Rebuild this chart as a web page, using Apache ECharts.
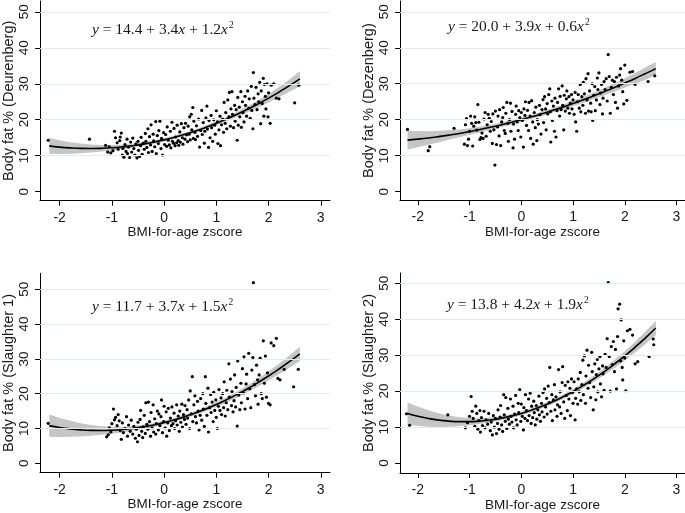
<!DOCTYPE html>
<html>
<head>
<meta charset="utf-8">
<script src="https://cdn.jsdelivr.net/npm/echarts@6/dist/echarts.min.js"></script>
<style>
html,body{margin:0;padding:0;background:#fff;}
#c{width:685px;height:513px;}
</style>
</head>
<body>
<div id="c"></div>
<script>
// ---------- data ----------
const xTicks = [-2, -1, 0, 1, 2, 3];
const yTicks = [0, 10, 20, 30, 40, 50];
const gridYs = [10, 20, 30, 40, 50];
const xTitle = 'BMI-for-age zscore';
const yTitles = ['Body fat % (Deurenberg)', 'Body fat % (Dezenberg)', 'Body fat % (Slaughter 1)', 'Body fat % (Slaughter 2)'];
const equations = [
  ['14.4', '3.4', '1.2'],
  ['20.0', '3.9', '0.6'],
  ['11.7', '3.7', '1.5'],
  ['13.8', '4.2', '1.9']
];

const fitX = [-2.2,-2.0,-1.8,-1.6,-1.4,-1.2,-1.0,-0.8,-0.6,-0.4,-0.2,0,0.2,0.4,0.6,0.8,1.0,1.2,1.4,1.6,1.8,2.0,2.2,2.4,2.6];

const fit1 = [12.73,12.40,12.17,12.03,11.99,12.05,12.20,12.45,12.79,13.23,13.77,14.40,15.13,15.95,16.87,17.89,19.00,20.21,21.51,22.91,24.41,26.00,27.69,29.47,31.35];
const fit2 = [14.32,14.60,14.92,15.30,15.72,16.18,16.70,17.26,17.88,18.54,19.24,20.00,20.80,21.66,22.56,23.50,24.50,25.54,26.64,27.78,28.96,30.20,31.48,32.82,34.20];
const fit3 = [10.82,10.30,9.90,9.62,9.46,9.42,9.50,9.70,10.02,10.46,11.02,11.70,12.50,13.42,14.46,15.62,16.90,18.30,19.82,21.46,23.22,25.10,27.10,29.22,31.46];
const fit4 = [13.76,13.00,12.40,11.94,11.64,11.50,11.50,11.66,11.96,12.42,13.04,13.80,14.72,15.78,17.00,18.38,19.90,21.58,23.40,25.38,27.52,29.80,32.24,34.82,37.56];

const ci1 = [2.2,1.9,1.6,1.35,1.1,0.9,0.75,0.62,0.55,0.5,0.48,0.47,0.47,0.48,0.5,0.52,0.56,0.62,0.7,0.82,0.98,1.18,1.42,1.72,2.1];
const ci2 = [2.6,2.25,1.9,1.6,1.32,1.08,0.9,0.78,0.7,0.65,0.62,0.6,0.6,0.61,0.63,0.67,0.72,0.8,0.9,1.02,1.16,1.32,1.5,1.68,1.85];
const ci3 = [3.2,2.75,2.3,1.9,1.55,1.25,1.0,0.82,0.7,0.62,0.58,0.56,0.56,0.57,0.6,0.64,0.7,0.78,0.88,1.0,1.15,1.32,1.52,1.76,2.05];
const ci4 = [3.1,2.7,2.3,1.9,1.55,1.25,1.0,0.82,0.7,0.62,0.58,0.56,0.56,0.57,0.6,0.64,0.7,0.78,0.88,1.0,1.14,1.3,1.5,1.74,2.0];

const pts1 = [
[-2.22,14.3],[-1.43,14.6],[-1.12,12.9],
[-1.08,11.0],[-1.05,12.5],[-1.02,10.8],[-0.98,11.4],[-0.95,16.8],[-0.93,15.0],[-0.9,13.6],[-0.88,11.8],[-0.85,14.2],[-0.84,15.2],[-0.82,16.3],[-0.8,10.2],[-0.79,12.0],[-0.77,9.6],[-0.75,13.1],[-0.73,11.2],[-0.71,14.6],[-0.7,10.6],
[-0.68,12.4],[-0.66,9.5],[-0.64,13.8],[-0.62,11.0],[-0.6,14.9],[-0.58,12.0],[-0.56,10.2],[-0.54,13.3],[-0.52,9.4],[-0.5,14.0],[-0.49,11.5],[-0.47,9.8],[-0.45,12.8],[-0.44,15.1],[-0.42,10.4],[-0.4,13.5],
[-0.38,11.8],[-0.36,16.2],[-0.35,14.0],[-0.33,12.3],[-0.31,17.5],[-0.3,10.9],[-0.28,15.3],[-0.26,13.0],[-0.25,18.6],[-0.23,11.2],[-0.21,16.0],[-0.2,14.1],[-0.18,12.5],[-0.16,19.5],[-0.15,10.6],[-0.13,15.6],[-0.11,13.4],[-0.1,17.0],
[-0.08,19.6],[-0.06,12.0],[-0.05,14.8],[-0.03,10.2],[-0.01,16.4],[0.01,13.1],[0.03,15.9],[0.05,12.6],[0.06,18.0],[0.08,14.3],[0.1,13.0],[0.12,16.8],[0.13,12.2],[0.15,19.3],[0.16,14.0],[0.18,13.5],[0.19,17.6],
[0.21,12.8],[0.22,15.2],[0.24,13.6],[0.25,18.5],[0.27,14.2],[0.28,12.9],[0.3,16.6],[0.31,13.8],[0.33,18.9],[0.35,15.0],[0.36,13.2],[0.38,17.8],[0.4,14.6],[0.41,19.0],[0.43,15.8],[0.45,13.9],[0.46,18.2],[0.48,16.0],[0.49,20.8],
[0.5,14.4],[0.52,21.5],[0.53,17.2],[0.55,23.4],[0.56,14.8],[0.57,19.6],[0.59,16.5],[0.6,14.5],[0.62,18.3],[0.64,15.4],[0.66,20.2],[0.68,12.4],[0.7,17.0],[0.72,22.6],[0.73,15.9],[0.75,19.2],[0.77,13.5],[0.78,16.8],
[0.8,20.5],[0.82,23.8],[0.83,17.4],[0.85,12.3],[0.86,19.8],[0.88,15.0],[0.9,21.2],[0.91,17.8],[0.93,14.0],[0.95,20.0],[0.97,18.5],[0.98,16.0],[1.0,22.5],[1.02,19.4],[1.03,13.4],[1.05,17.2],[1.07,21.0],[1.08,12.8],[1.1,18.6],
[1.12,20.2],[1.14,16.5],[1.15,24.8],[1.17,19.0],[1.18,22.0],[1.2,17.5],[1.22,25.5],[1.24,20.8],[1.25,27.6],[1.27,18.2],[1.28,23.0],[1.3,27.8],[1.31,21.5],[1.33,17.8],[1.35,24.0],[1.36,19.6],[1.38,22.8],[1.4,14.3],
[1.41,26.2],[1.42,18.5],[1.44,23.5],[1.45,20.8],[1.47,27.8],[1.48,17.9],[1.5,25.0],[1.51,22.0],[1.53,19.4],[1.55,26.5],[1.56,24.0],[1.58,21.0],[1.6,28.0],[1.62,23.2],[1.63,25.8],[1.65,20.4],[1.67,29.3],[1.68,22.6],[1.7,17.5],
[1.71,33.1],[1.72,26.0],[1.74,24.2],[1.76,29.0],[1.78,22.8],[1.8,27.2],[1.81,25.0],[1.83,30.4],[1.85,18.9],[1.86,28.0],[1.88,24.5],[1.9,31.5],[1.91,21.0],[1.92,29.8],[1.94,26.5],[1.95,23.0],[1.97,30.0],[1.99,20.8],[2.0,27.5],
[2.03,19.0],[2.05,29.6],[2.1,30.0],[2.15,26.0],[2.2,25.8],[2.5,24.7],[2.58,29.6]
];

const pts2 = [
[-2.2,17.3],[-1.8,11.4],[-1.77,12.5],[-1.3,17.6],
[-1.1,13.2],[-1.08,18.6],[-1.06,20.3],[-1.04,12.8],[-1.02,14.6],[-1.0,16.8],[-0.98,21.0],[-0.96,19.0],[-0.94,12.7],[-0.92,18.2],[-0.9,20.8],[-0.88,19.2],[-0.86,17.1],[-0.84,24.2],[-0.82,19.3],[-0.8,14.5],
[-0.78,15.0],[-0.76,16.3],[-0.74,14.8],[-0.72,20.2],[-0.7,22.0],[-0.68,15.4],[-0.66,18.6],[-0.64,21.5],[-0.62,20.4],[-0.6,16.8],[-0.58,19.5],[-0.56,13.4],[-0.55,21.6],[-0.53,17.2],[-0.51,7.4],[-0.5,22.4],
[-0.48,13.1],[-0.46,18.0],[-0.45,21.0],[-0.43,15.5],[-0.42,22.8],[-0.4,12.8],[-0.38,19.4],[-0.36,20.6],[-0.35,23.4],[-0.33,17.0],[-0.31,16.2],[-0.3,21.8],[-0.28,24.8],[-0.26,19.0],[-0.25,14.0],[-0.23,20.0],[-0.21,24.6],[-0.2,16.8],
[-0.18,22.3],[-0.16,12.2],[-0.15,18.8],[-0.13,14.6],[-0.11,21.5],[-0.1,23.8],[-0.08,19.4],[-0.06,17.0],[-0.05,22.5],[-0.03,20.6],[-0.01,15.2],[0.0,22.0],[0.02,19.8],[0.04,12.4],[0.05,23.0],[0.07,21.2],[0.08,25.0],[0.1,18.4],
[0.12,22.6],[0.14,17.0],[0.15,24.8],[0.17,21.0],[0.18,14.8],[0.2,25.3],[0.22,19.4],[0.23,13.2],[0.25,22.0],[0.27,17.8],[0.28,23.5],[0.3,14.2],[0.31,20.0],[0.33,18.8],[0.35,24.0],[0.36,21.4],[0.38,16.0],[0.4,22.8],
[0.42,25.6],[0.43,19.2],[0.45,26.4],[0.47,23.0],[0.48,17.2],[0.5,24.5],[0.51,21.6],[0.53,27.0],[0.55,28.6],[0.56,22.2],[0.57,13.8],[0.59,25.2],[0.6,19.8],[0.62,23.8],[0.64,16.8],[0.65,26.0],[0.67,15.2],[0.69,22.5],[0.7,24.8],
[0.72,28.6],[0.74,21.0],[0.75,26.5],[0.77,22.8],[0.79,29.4],[0.8,24.0],[0.82,17.2],[0.83,26.8],[0.85,22.4],[0.87,25.8],[0.88,28.0],[0.9,23.2],[0.92,26.4],[0.93,21.8],[0.95,24.6],[0.97,27.0],[0.98,23.0],[1.0,25.5],
[1.02,21.5],[1.04,27.6],[1.05,19.4],[1.07,16.8],[1.08,25.0],[1.1,27.0],[1.12,23.2],[1.14,29.8],[1.15,22.2],[1.17,26.4],[1.19,24.0],[1.2,30.4],[1.22,27.2],[1.24,21.8],[1.25,31.4],[1.27,25.5],[1.29,32.8],[1.3,22.4],
[1.32,28.0],[1.34,24.6],[1.35,22.2],[1.37,30.0],[1.38,19.8],[1.4,26.8],[1.42,29.2],[1.43,22.5],[1.45,25.5],[1.47,31.6],[1.48,28.4],[1.5,33.0],[1.52,24.2],[1.53,27.4],[1.55,29.8],[1.57,21.6],[1.58,26.0],[1.6,30.6],
[1.62,28.4],[1.64,31.4],[1.66,25.2],[1.68,38.1],[1.7,32.0],[1.72,21.8],[1.74,29.0],[1.76,31.0],[1.78,27.0],[1.8,30.6],[1.82,24.8],[1.84,31.8],[1.86,23.2],[1.88,29.4],[1.9,32.4],[1.92,34.2],[1.94,31.0],[1.96,27.8],[1.98,24.4],[2.0,35.2],
[2.04,25.4],[2.1,33.2],[2.15,33.4],[2.2,29.8],[2.45,30.6],[2.58,32.2]
];

const pts3 = [
[-2.22,11.5],
[-1.1,7.6],[-1.07,8.2],[-1.05,10.2],[-1.02,9.0],[-1.0,11.4],[-0.97,15.6],[-0.95,12.5],[-0.93,13.2],[-0.9,10.8],[-0.88,14.0],[-0.86,12.2],[-0.84,9.4],[-0.82,6.9],[-0.8,11.6],
[-0.78,8.8],[-0.75,10.0],[-0.72,13.4],[-0.7,7.8],[-0.68,11.0],[-0.65,9.2],[-0.63,12.4],[-0.6,8.4],[-0.58,10.6],[-0.55,7.2],[-0.53,9.8],[-0.51,6.2],[-0.5,11.8],
[-0.48,8.0],[-0.46,12.6],[-0.45,15.2],[-0.43,9.2],[-0.41,7.4],[-0.4,10.5],[-0.38,13.8],[-0.36,8.6],[-0.35,17.4],[-0.33,11.2],[-0.31,9.8],[-0.3,17.6],[-0.28,12.0],[-0.26,7.8],[-0.25,14.6],[-0.23,10.2],[-0.21,16.8],[-0.2,9.0],
[-0.18,12.8],[-0.16,8.4],[-0.15,11.4],[-0.13,15.0],[-0.11,9.6],[-0.1,14.2],[-0.08,10.8],[-0.06,13.4],[-0.05,18.2],[-0.03,8.8],[-0.01,12.0],[0.0,16.4],[0.02,10.2],[0.04,14.8],[0.05,7.8],[0.07,11.6],[0.08,15.8],[0.1,9.4],
[0.12,13.0],[0.14,10.8],[0.15,16.2],[0.17,11.4],[0.19,14.4],[0.2,10.0],[0.22,12.2],[0.24,16.8],[0.25,11.0],[0.27,13.6],[0.29,9.2],[0.3,15.0],[0.32,11.8],[0.34,17.0],[0.35,10.4],[0.37,14.0],[0.39,12.6],[0.4,16.6],
[0.42,11.2],[0.44,15.4],[0.45,13.0],[0.47,18.2],[0.49,10.0],[0.5,20.8],[0.52,14.2],[0.54,24.9],[0.55,12.0],[0.57,16.8],[0.59,19.4],[0.6,13.4],[0.62,11.6],[0.64,17.8],[0.65,15.0],[0.67,9.6],[0.69,13.8],[0.7,18.6],
[0.72,12.4],[0.74,20.0],[0.75,15.6],[0.77,10.6],[0.79,24.9],[0.8,17.2],[0.82,13.8],[0.84,21.6],[0.85,9.0],[0.87,16.0],[0.89,19.8],[0.9,14.6],[0.92,17.6],[0.94,12.0],[0.95,20.4],[0.97,15.2],[0.99,18.2],[1.0,13.2],
[1.02,10.0],[1.04,16.4],[1.05,21.2],[1.07,15.2],[1.09,18.8],[1.1,14.0],[1.12,20.0],[1.14,16.0],[1.15,23.4],[1.17,13.6],[1.19,17.4],[1.2,21.0],[1.22,15.4],[1.24,28.6],[1.25,19.0],[1.27,24.2],[1.29,16.6],[1.3,20.6],
[1.32,14.8],[1.34,18.0],[1.35,25.4],[1.37,16.2],[1.38,21.8],[1.4,10.7],[1.41,29.4],[1.43,19.6],[1.45,15.4],[1.47,23.0],[1.48,17.4],[1.5,27.2],[1.52,20.2],[1.53,30.6],[1.55,15.6],[1.57,22.8],[1.58,25.6],[1.6,18.6],
[1.62,31.6],[1.64,21.4],[1.66,16.0],[1.68,26.8],[1.7,30.4],[1.71,51.9],[1.73,22.6],[1.75,19.4],[1.77,28.2],[1.79,24.0],[1.8,17.0],[1.82,25.4],[1.84,30.2],[1.86,20.0],[1.88,18.6],[1.9,35.2],[1.92,23.0],[1.94,30.8],[1.96,19.0],[1.98,26.0],[2.0,17.2],
[2.03,16.8],[2.05,34.6],[2.1,33.8],[2.15,35.9],[2.18,24.4],[2.22,24.0],[2.3,27.0],[2.48,22.0],[2.57,27.0]
];

const pts4 = [
[-2.22,13.7],[-2.16,10.5],[-1.42,13.4],
[-1.08,9.8],[-1.04,11.2],[-1.0,13.0],[-0.97,18.5],[-0.95,14.4],[-0.93,12.4],[-0.9,10.2],[-0.88,15.8],[-0.86,13.8],[-0.84,9.4],[-0.82,11.8],[-0.8,14.6],[-0.79,8.6],
[-0.77,12.6],[-0.75,10.4],[-0.72,14.4],[-0.7,9.8],[-0.68,12.0],[-0.65,10.8],[-0.63,13.8],[-0.6,9.0],[-0.58,11.4],[-0.56,7.8],[-0.54,13.2],[-0.52,10.0],[-0.5,12.4],
[-0.48,8.2],[-0.46,11.0],[-0.45,14.8],[-0.43,9.4],[-0.41,12.8],[-0.4,16.0],[-0.38,10.6],[-0.36,8.8],[-0.34,19.0],[-0.33,13.4],[-0.31,11.6],[-0.3,18.2],[-0.28,9.6],[-0.26,15.2],[-0.25,12.2],[-0.23,10.8],[-0.21,17.8],[-0.2,13.0],
[-0.18,11.4],[-0.16,15.8],[-0.15,9.8],[-0.13,13.6],[-0.11,18.8],[-0.1,12.0],[-0.08,10.6],[-0.06,16.6],[-0.05,14.0],[-0.03,20.4],[-0.01,11.6],[0.0,16.4],[0.02,13.0],[0.04,9.2],[0.05,15.4],[0.07,12.4],[0.08,19.0],[0.1,14.6],
[0.12,11.8],[0.14,17.8],[0.15,13.2],[0.17,19.4],[0.19,11.0],[0.2,15.8],[0.22,12.6],[0.24,17.2],[0.25,14.0],[0.27,10.6],[0.29,16.0],[0.3,12.2],[0.32,14.8],[0.34,18.6],[0.35,13.4],[0.37,11.6],[0.39,16.6],[0.4,14.2],
[0.42,19.6],[0.44,12.8],[0.45,20.6],[0.47,15.6],[0.49,18.0],[0.5,13.6],[0.52,21.4],[0.54,16.8],[0.55,26.6],[0.57,14.4],[0.59,19.0],[0.6,11.8],[0.62,17.6],[0.64,21.8],[0.65,14.8],[0.67,18.4],[0.69,13.0],[0.7,16.2],
[0.72,26.0],[0.74,15.6],[0.75,19.8],[0.77,13.8],[0.79,22.4],[0.8,26.8],[0.82,17.0],[0.84,12.4],[0.85,21.6],[0.87,18.8],[0.89,14.6],[0.9,22.6],[0.92,17.8],[0.94,20.8],[0.95,13.2],[0.97,23.4],[0.99,19.6],[1.0,16.6],
[1.02,22.6],[1.04,12.0],[1.05,18.0],[1.07,20.6],[1.09,16.4],[1.1,23.4],[1.12,19.8],[1.14,25.2],[1.15,17.4],[1.17,21.8],[1.19,28.6],[1.2,19.0],[1.22,29.8],[1.24,16.6],[1.25,24.2],[1.27,31.4],[1.29,20.8],[1.3,27.2],
[1.32,22.4],[1.34,18.2],[1.36,30.8],[1.37,25.4],[1.39,14.8],[1.4,21.2],[1.42,27.6],[1.44,17.6],[1.45,24.6],[1.47,28.8],[1.48,19.8],[1.5,26.2],[1.52,29.6],[1.53,22.0],[1.55,18.4],[1.57,27.0],[1.58,24.8],[1.6,20.2],
[1.62,30.2],[1.64,26.6],[1.66,34.6],[1.68,50.2],[1.7,29.6],[1.72,20.0],[1.74,32.4],[1.76,27.4],[1.78,33.8],[1.8,25.4],[1.82,31.6],[1.84,20.6],[1.86,35.2],[1.87,42.9],[1.9,44.2],[1.92,28.4],[1.93,39.8],[1.95,26.6],[1.96,23.1],[1.98,34.0],[2.0,29.2],
[2.02,20.1],[2.05,36.8],[2.1,37.2],[2.15,35.6],[2.2,27.6],[2.25,28.2],[2.47,29.6],[2.55,34.5],[2.56,32.9]
];

const fits = [fit1, fit2, fit3, fit4];
const cis = [ci1, ci2, ci3, ci4];
const pts = [pts1, pts2, pts3, pts4];

// ---------- layout ----------
const layout = [
  {left: 38.5, top: 1,     width: 291.5, height: 199.7, xmin: -2.377, xmax: 3.177, ymin: -2.5,  ymax: 53.0,  eqLeft: 92,  eqTop: 20.5},
  {left: 400,  top: 1,     width: 292,   height: 199.3, xmin: -2.345, xmax: 3.164, ymin: -2.4,  ymax: 53.0,  eqLeft: 448, eqTop: 17.5},
  {left: 38.3, top: 273.3, width: 291.7, height: 199.4, xmin: -2.377, xmax: 3.177, ymin: -2.7,  ymax: 54.6,  eqLeft: 92,  eqTop: 297},
  {left: 400,  top: 273,   width: 292,   height: 200.3, xmin: -2.345, xmax: 3.164, ymin: -2.78, ymax: 52.86, eqLeft: 447, eqTop: 295.5}
];

const sans = 'Liberation Sans, Arial, sans-serif';
const serif = 'Liberation Serif, Times New Roman, serif';
const textColor = '#1a1a1a';

const option = {
  animation: false,
  backgroundColor: '#ffffff',
  grid: [], xAxis: [], yAxis: [], series: [], title: []
};

layout.forEach((L, k) => {
  option.grid.push({left: L.left, top: L.top, width: L.width, height: L.height, containLabel: false});
  option.xAxis.push({
    type: 'value', gridIndex: k, min: L.xmin, max: L.xmax,
    name: xTitle, nameLocation: 'middle', nameGap: 25,
    nameTextStyle: {fontFamily: sans, fontSize: 13.5, color: textColor},
    axisLine: {show: true, onZero: false, lineStyle: {color: '#000', width: 1}},
    axisTick: {show: true, inside: false, length: 5, customValues: xTicks, lineStyle: {color: '#000', width: 1}},
    axisLabel: {show: true, customValues: xTicks, margin: 10, fontFamily: sans, fontSize: 14, color: textColor},
    splitLine: {show: false}
  });
  option.yAxis.push({
    type: 'value', gridIndex: k, min: L.ymin, max: L.ymax,
    name: yTitles[k], nameLocation: 'middle', nameGap: 24,
    nameTextStyle: {fontFamily: sans, fontSize: 14.5, color: textColor},
    axisLine: {show: true, onZero: false, lineStyle: {color: '#000', width: 1}},
    axisTick: {show: true, inside: false, length: 5, customValues: yTicks, lineStyle: {color: '#000', width: 1}},
    axisLabel: {show: true, customValues: yTicks, rotate: 90, margin: 9, fontFamily: sans, fontSize: 13.5, color: textColor},
    splitLine: {show: false}
  });

  const fit = fits[k], ci = cis[k];
  const lower = fit.map((v, i) => v - ci[i]);
  const upper = fit.map((v, i) => v + ci[i]);

  // gridlines (reference lines at the labelled values)
  option.series.push({
    type: 'line', xAxisIndex: k, yAxisIndex: k, data: [], silent: true, z: 1,
    markLine: {
      silent: true, symbol: ['none', 'none'], label: {show: false}, animation: false,
      lineStyle: {color: '#e3ecec', width: 1, type: 'solid'},
      emphasis: {disabled: true},
      data: gridYs.map(v => ({yAxis: v}))
    }
  });

  // confidence band
  option.series.push({
    type: 'custom', xAxisIndex: k, yAxisIndex: k, silent: true, z: 2,
    data: fitX.map((x, i) => [x, lower[i], upper[i]]),
    encode: {x: 0, y: [1, 2]},
    renderItem: function (params, api) {
      if (params.dataIndex !== 0) return null;
      const top = fitX.map((x, i) => api.coord([x, upper[i]]));
      const bot = fitX.map((x, i) => api.coord([x, lower[i]])).reverse();
      return {type: 'polygon', shape: {points: top.concat(bot)}, style: {fill: '#c5c5c5', stroke: null}};
    }
  });

  // scatter
  option.series.push({
    type: 'scatter', xAxisIndex: k, yAxisIndex: k, z: 3,
    data: pts[k], symbol: 'circle', symbolSize: 3.2,
    itemStyle: {color: '#000', opacity: 1}
  });

  // fitted curve
  option.series.push({
    type: 'line', xAxisIndex: k, yAxisIndex: k, z: 4,
    data: fitX.map((x, i) => [x, fit[i]]), showSymbol: false, symbol: 'none', smooth: true,
    lineStyle: {color: '#000', width: 1.6}
  });

  const e = equations[k];
  option.title.push({
    left: L.eqLeft, top: L.eqTop, padding: 0,
    text: '{i|y} = ' + e[0] + ' + ' + e[1] + '{i|x} + ' + e[2] + '{i|x}{s|2}',
    textStyle: {
      fontFamily: serif, fontSize: 15.5, fontWeight: 'normal', color: textColor, lineHeight: 19,
      rich: {
        i: {fontFamily: serif, fontSize: 15.5, fontStyle: 'italic', color: textColor, lineHeight: 19},
        s: {fontFamily: serif, fontSize: 9.5, color: textColor, verticalAlign: 'top', lineHeight: 19, padding: [0, 0, 0, 1]}
      }
    }
  });
});

const chart = echarts.init(document.getElementById('c'), null, {renderer: 'canvas'});
chart.setOption(option);
</script>
</body>
</html>
